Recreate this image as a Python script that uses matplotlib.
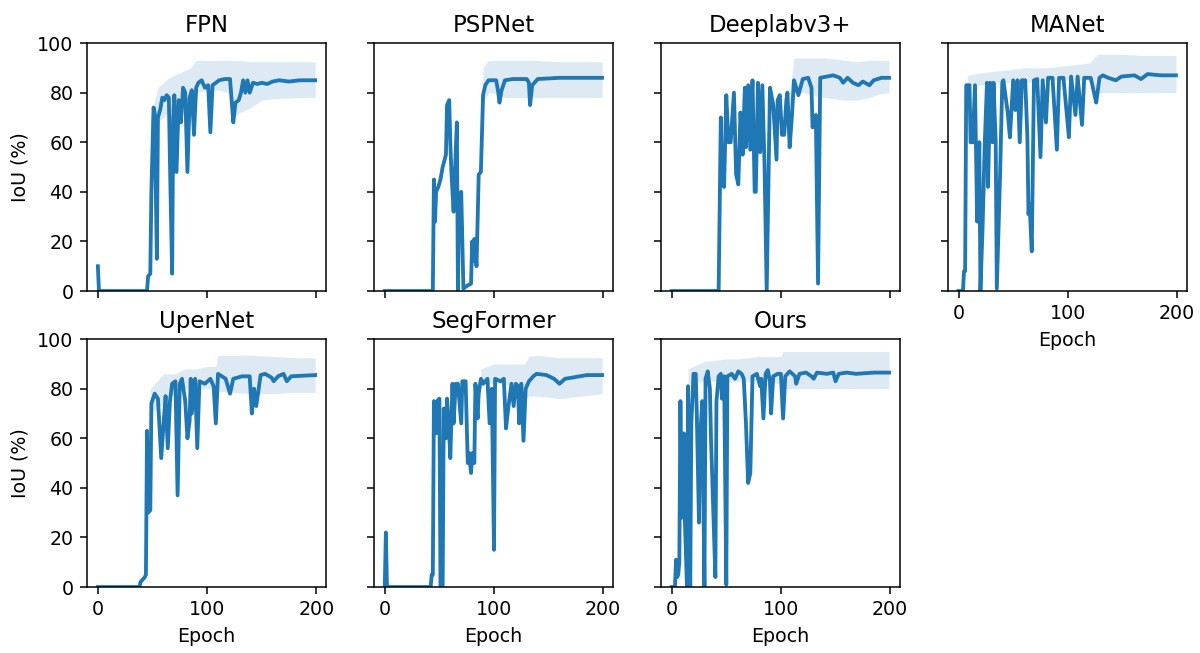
import matplotlib
matplotlib.use('Agg')
import matplotlib.pyplot as plt

names = ['FPN', 'PSPNet', 'Deeplabv3+', 'MANet', 'UperNet', 'SegFormer', 'Ours']

# mean IoU per epoch (key points)
fpn_ep = [0,1,45,46,48,49,51,52,54,55,57,59,61,63,65,66,68,69,70,72,74,76,78,80,82,84,86,88,90,92,95,98,101,103,105,108,111,116,121,124,126,129,131,133,135,137,139,142,146,150,155,160,166,175,185,199]
fpn_iou = [10,0,0,6,7,40,74,72,13,70,73,78,77,79,78,52,7,70,79,48,77,68,82,80,48,78,81,63,82,84,85,82,83,64,83,84,85,85.5,85.5,68,76,77,80,85,80,85,80,84,83.5,84,83.5,84.5,85,84.5,85,85]
fpn_bx = [48,55,65,75,85,90,100,110,120,124,130,140,150,160,180,199]
fpn_lo = [60,68,72,74,76,80,81,81,80,70,72,74,77,77.5,78,78]
fpn_hi = [70,82,86,88,90,93,93,93,93,93,93,92.5,92.5,92.5,92.5,92.5]

psp_ep = [0,44,45,46,47,49,51,53,56,57,59,60,61,63,64,66,67,68,70,72,75,79,80,81,82,84,86,88,90,92,95,102,104,105,107,110,117,130,132,133,135,140,160,199]
psp_iou = [0,0,45,28,40,42,45,50,55,75,77,60,48,32,45,68,0,38,40,1,2,3,20,12,21,10,47,48,79,83,85,85,80,76,81,85,85.5,85.5,84,75,83,85.5,86,86]
psp_bx = [88,90,95,100,105,110,120,130,140,160,199]
psp_lo = [45,76,80,80,78,78,78,78,78,78,78]
psp_hi = [52,90,93,93,93,93,93,93,93,92.5,92.5]

dl_ep = [0,43,45,46,48,50,52,54,57,59,61,63,65,67,68,70,72,74,76,77,79,81,83,85,87,90,93,96,97,99,101,103,105,106,108,110,112,114,116,120,125,128,129,132,134,136,142,148,154,157,161,166,171,175,181,185,192,199]
dl_iou = [0,0,70,43,42,79,60,60,80,47,43,72,55,82,58,83,57,85,40,40,84,56,83,51,0,82,75,53,77,79,63,63,77,80,58,70,85,82,79,85.5,86,82,66,71,3,86,86.5,87,86,84,86,84,83,84.5,83,85,86,86]
dl_bx = [108,112,120,130,136,140,150,160,170,180,190,199]
dl_lo = [70,80,80,79,78,78,77.5,77,77,78,79.5,80]
dl_hi = [80,94,94,94,94,94,93.5,93,92.5,93,93,93]

mn_ep = [0,4,5,6,7,8,10,11,13,15,17,19,20,22,24,26,27,29,31,32,34,35,38,40,41,45,47,50,52,54,56,58,61,63,64,65,67,69,72,75,77,80,82,86,90,92,96,101,103,107,109,113,115,121,124,126,129,132,137,144,149,161,167,173,185,199]
mn_iou = [0,0,8,8,83,83,83,60,60,83,28,60,0,26,60,84,42,84,60,84,60,1,47,84,85,72,62,85,73,85,60,85,85,62,31,35,16,85,85.5,54,85,68,86,86,57,86,86,62,86.5,71,86.5,67,86,86,80,76,86,87,86,85,86.5,87,85.5,87.5,87,87]
mn_bx = [8,20,40,60,80,100,120,127,130,150,170,199]
mn_lo = [83,83,84,84,85,85,85,80,80,80,80,80]
mn_hi = [87,88,89,90,90,91,92,95.5,95.5,95.5,95,95]

up_ep = [0,38,39,43,44,45,46,48,49,52,55,58,60,62,64,66,68,71,73,75,77,80,82,84,85,86,89,91,93,98,103,106,108,110,117,121,124,132,139,141,143,145,149,153,159,161,165,170,173,177,199]
up_iou = [0,0,2,4,5,63,30,31,74,78,76,52,65,77,56,75,82,83,37,82,84,75,60,67,84,70,84,56,83,82,84,81,66,86,84,78,84,85,85,70,80,73,85.5,86,84.5,83,85,86,83,85,85.5]
up_bx = [48,60,70,80,90,100,108,110,120,140,160,180,199]
up_lo = [70,74,78,80,80,80,80,79,78.5,78,78,78.5,78.5]
up_hi = [80,86,86,88,88,89,89,93.5,93.5,93.5,93,92.5,92.5]

sf_ep = [0,1,2,42,43,44,45,47,48,50,51,53,54,56,57,59,60,62,63,65,67,70,71,74,76,77,79,80,82,83,85,86,88,90,94,96,98,100,101,106,109,111,113,116,118,120,122,123,125,127,129,132,136,139,148,155,160,165,172,185,199]
sf_iou = [0,22,0,0,5,5,75,62,75,76,0,0,72,60,76,62,52,82,66,82,82,66,83,83,50,54,46,54,50,82,68,78,84,82,84,66,80,15,84,83,84,64,72,82,73,82,81,66,82,59,80,83,85,86,85.5,84,82,84,84.5,85.5,85.5]
sf_bx = [88,100,110,120,128,132,140,150,160,170,180,190,199]
sf_lo = [82,82,82,80,76,77,77,76.5,76,76.5,77,77.5,78]
sf_hi = [88,90,90,90,90,93,93.5,93,92.5,92.5,92.5,92.5,92.5]

ou_ep = [0,3,4,5,6,7,8,9,11,12,14,15,17,18,20,22,23,25,26,28,30,31,33,35,36,38,40,41,43,45,46,48,50,51,55,58,61,64,66,68,70,72,74,78,81,82,84,86,88,90,91,93,97,100,102,104,108,113,114,117,123,128,130,133,142,148,150,153,160,169,185,199]
ou_iou = [0,0,11,4,5,10,75,28,62,28,0,81,0,66,86,86,70,26,60,75,0,84,87,80,60,32,4,75,85,86,76,85,1,85,86,84,87,86,84,66,42,46,85,86,81,84,68,86,87.5,83,70,85,86,86,68,85,87,85,82,86,86.5,85,84,86.5,86,86.5,83,86,86.5,86,86.5,86.5]
ou_bx = [15,30,50,60,80,100,102,120,140,160,180,199]
ou_lo = [82,83,83,83,83,82,80,80,80,80,80,80]
ou_hi = [88,91,92,92,93,93,95,95,95,95,95,95]

runs = [(fpn_ep, fpn_iou, fpn_bx, fpn_lo, fpn_hi),
        (psp_ep, psp_iou, psp_bx, psp_lo, psp_hi),
        (dl_ep, dl_iou, dl_bx, dl_lo, dl_hi),
        (mn_ep, mn_iou, mn_bx, mn_lo, mn_hi),
        (up_ep, up_iou, up_bx, up_lo, up_hi),
        (sf_ep, sf_iou, sf_bx, sf_lo, sf_hi),
        (ou_ep, ou_iou, ou_bx, ou_lo, ou_hi)]

fig, axes = plt.subplots(2, 4, figsize=(1200/137, 653/137), dpi=137, sharex=True, sharey=True)
plt.subplots_adjust(left=0.0725, right=0.989, top=0.934, bottom=0.101, wspace=0.2, hspace=0.194)
axes[1, 3].remove()

for ax, name, (ep, iou, bx, lo, hi) in zip(axes.flat, names, runs):
    ax.fill_between(bx, lo, hi, color='C0', alpha=0.15, linewidth=0)
    ax.plot(ep, iou, color='C0', lw=2)
    ax.set_title(name)

ax = axes[0, 0]
ax.set_ylim(0, 100)
ax.set_yticks([0, 20, 40, 60, 80, 100])
ax.set_xticks([0, 100, 200])

for a in axes[:, 0]:
    a.set_ylabel('IoU (%)')
for a in axes[1, :3]:
    a.set_xlabel('Epoch')
axes[0, 3].xaxis.set_tick_params(labelbottom=True)
axes[0, 3].set_xlabel('Epoch')

plt.savefig('out.png', dpi=137)
